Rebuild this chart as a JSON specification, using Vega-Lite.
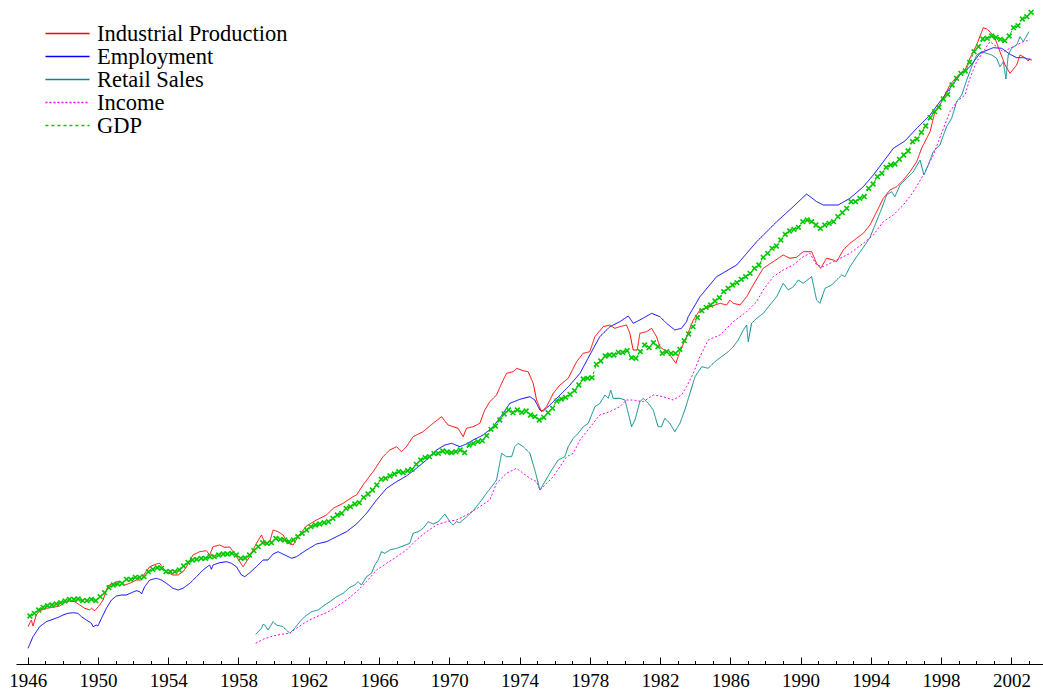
{
"$schema": "https://vega.github.io/schema/vega-lite/v6.json",
"width": 1027, "height": 664,
"autosize": {"type": "none"},
"padding": {"left": 16, "top": 0, "right": 0, "bottom": 34},
"background": "white",
"config": {"view": {"stroke": null}, "font": "Liberation Serif"},
"data": {"values": [
{"s":"Employment","t":1946.02,"v":15.7},{"s":"Employment","t":1946.30,"v":27.3},{"s":"Employment","t":1946.68,"v":37.3},{"s":"Employment","t":1947.06,"v":42.3},{"s":"Employment","t":1947.44,"v":44.7},{"s":"Employment","t":1947.82,"v":47.3},{"s":"Employment","t":1948.01,"v":49},{"s":"Employment","t":1948.29,"v":50.7},{"s":"Employment","t":1948.58,"v":51.3},{"s":"Employment","t":1948.86,"v":50.7},{"s":"Employment","t":1949.06,"v":47.3},{"s":"Employment","t":1949.34,"v":44},{"s":"Employment","t":1949.63,"v":40.7},{"s":"Employment","t":1949.72,"v":37.3},{"s":"Employment","t":1949.91,"v":39},{"s":"Employment","t":1950.00,"v":38},{"s":"Employment","t":1950.20,"v":45.7},{"s":"Employment","t":1950.48,"v":55.7},{"s":"Employment","t":1950.77,"v":64},{"s":"Employment","t":1951.05,"v":68},{"s":"Employment","t":1951.34,"v":69},{"s":"Employment","t":1951.62,"v":69},{"s":"Employment","t":1951.91,"v":71.3},{"s":"Employment","t":1952.19,"v":73.3},{"s":"Employment","t":1952.38,"v":72.3},{"s":"Employment","t":1952.48,"v":70},{"s":"Employment","t":1952.66,"v":77.3},{"s":"Employment","t":1952.95,"v":84},{"s":"Employment","t":1953.33,"v":85.7},{"s":"Employment","t":1953.61,"v":84},{"s":"Employment","t":1953.90,"v":80.7},{"s":"Employment","t":1954.27,"v":75.7},{"s":"Employment","t":1954.56,"v":74},{"s":"Employment","t":1954.84,"v":75.7},{"s":"Employment","t":1955.23,"v":80.7},{"s":"Employment","t":1955.61,"v":87.3},{"s":"Employment","t":1955.98,"v":94},{"s":"Employment","t":1956.36,"v":99},{"s":"Employment","t":1956.46,"v":94.7},{"s":"Employment","t":1956.55,"v":99},{"s":"Employment","t":1956.93,"v":101.3},{"s":"Employment","t":1957.32,"v":102.3},{"s":"Employment","t":1957.60,"v":100.7},{"s":"Employment","t":1957.88,"v":97.3},{"s":"Employment","t":1958.17,"v":89},{"s":"Employment","t":1958.36,"v":87.3},{"s":"Employment","t":1958.64,"v":91.3},{"s":"Employment","t":1959.02,"v":97.3},{"s":"Employment","t":1959.40,"v":104},{"s":"Employment","t":1959.68,"v":104},{"s":"Employment","t":1959.97,"v":110},{"s":"Employment","t":1960.25,"v":112.3},{"s":"Employment","t":1960.64,"v":109},{"s":"Employment","t":1961.02,"v":105.7},{"s":"Employment","t":1961.30,"v":107.3},{"s":"Employment","t":1961.87,"v":114},{"s":"Employment","t":1962.44,"v":120},{"s":"Employment","t":1963.01,"v":122.3},{"s":"Employment","t":1963.58,"v":127.3},{"s":"Employment","t":1964.15,"v":132.3},{"s":"Employment","t":1964.72,"v":140},{"s":"Employment","t":1965.29,"v":150.7},{"s":"Employment","t":1965.86,"v":164},{"s":"Employment","t":1966.43,"v":175.7},{"s":"Employment","t":1967.00,"v":182.3},{"s":"Employment","t":1967.56,"v":188},{"s":"Employment","t":1968.13,"v":195.7},{"s":"Employment","t":1968.70,"v":204},{"s":"Employment","t":1969.27,"v":214},{"s":"Employment","t":1969.75,"v":219},{"s":"Employment","t":1970.13,"v":220.7},{"s":"Employment","t":1970.60,"v":217.3},{"s":"Employment","t":1970.98,"v":220},{"s":"Employment","t":1971.36,"v":224},{"s":"Employment","t":1971.93,"v":229},{"s":"Employment","t":1972.50,"v":237.3},{"s":"Employment","t":1973.07,"v":250.7},{"s":"Employment","t":1973.45,"v":260.7},{"s":"Employment","t":1974.02,"v":264.7},{"s":"Employment","t":1974.59,"v":267.3},{"s":"Employment","t":1974.87,"v":264},{"s":"Employment","t":1975.16,"v":254},{"s":"Employment","t":1975.35,"v":253},{"s":"Employment","t":1975.73,"v":259},{"s":"Employment","t":1976.30,"v":269},{"s":"Employment","t":1976.87,"v":279},{"s":"Employment","t":1977.44,"v":290.7},{"s":"Employment","t":1978.00,"v":309},{"s":"Employment","t":1978.57,"v":327.3},{"s":"Employment","t":1979.14,"v":337.3},{"s":"Employment","t":1979.71,"v":342.3},{"s":"Employment","t":1980.19,"v":348},{"s":"Employment","t":1980.47,"v":340.7},{"s":"Employment","t":1980.85,"v":344},{"s":"Employment","t":1981.52,"v":350.7},{"s":"Employment","t":1981.99,"v":347.3},{"s":"Employment","t":1982.37,"v":340.7},{"s":"Employment","t":1982.84,"v":334},{"s":"Employment","t":1983.22,"v":335.7},{"s":"Employment","t":1983.51,"v":342.3},{"s":"Employment","t":1983.60,"v":347.3},{"s":"Employment","t":1984.27,"v":367.3},{"s":"Employment","t":1985.22,"v":387.3},{"s":"Employment","t":1986.36,"v":399},{"s":"Employment","t":1987.50,"v":422.3},{"s":"Employment","t":1988.64,"v":442.3},{"s":"Employment","t":1989.58,"v":457.3},{"s":"Employment","t":1990.34,"v":470},{"s":"Employment","t":1990.92,"v":462.3},{"s":"Employment","t":1991.29,"v":459},{"s":"Employment","t":1992.14,"v":459},{"s":"Employment","t":1992.81,"v":465.7},{"s":"Employment","t":1993.57,"v":477.3},{"s":"Employment","t":1994.14,"v":489},{"s":"Employment","t":1994.71,"v":502.3},{"s":"Employment","t":1995.28,"v":515.7},{"s":"Employment","t":1995.94,"v":523},{"s":"Employment","t":1996.61,"v":535.7},{"s":"Employment","t":1997.37,"v":549},{"s":"Employment","t":1997.93,"v":562.3},{"s":"Employment","t":1998.50,"v":575.7},{"s":"Employment","t":1999.07,"v":589},{"s":"Employment","t":1999.64,"v":597.3},{"s":"Employment","t":2000.21,"v":610.7},{"s":"Employment","t":2000.50,"v":613},{"s":"Employment","t":2000.97,"v":616.3},{"s":"Employment","t":2001.45,"v":615.7},{"s":"Employment","t":2001.92,"v":609.7},{"s":"Employment","t":2002.30,"v":606.3},{"s":"Employment","t":2002.68,"v":606.3},{"s":"Employment","t":2003.16,"v":604},
{"s":"Industrial Production","t":1946.02,"v":37.3},{"s":"Industrial Production","t":1946.11,"v":40.7},{"s":"Industrial Production","t":1946.21,"v":44},{"s":"Industrial Production","t":1946.30,"v":38},{"s":"Industrial Production","t":1946.49,"v":49},{"s":"Industrial Production","t":1946.68,"v":53.3},{"s":"Industrial Production","t":1947.06,"v":55.7},{"s":"Industrial Production","t":1947.44,"v":56.7},{"s":"Industrial Production","t":1947.82,"v":58},{"s":"Industrial Production","t":1948.11,"v":61.3},{"s":"Industrial Production","t":1948.39,"v":63},{"s":"Industrial Production","t":1948.68,"v":62.3},{"s":"Industrial Production","t":1948.96,"v":59},{"s":"Industrial Production","t":1949.25,"v":55.7},{"s":"Industrial Production","t":1949.53,"v":54},{"s":"Industrial Production","t":1949.63,"v":55.7},{"s":"Industrial Production","t":1949.82,"v":53.3},{"s":"Industrial Production","t":1950.10,"v":59},{"s":"Industrial Production","t":1950.29,"v":64},{"s":"Industrial Production","t":1950.57,"v":78},{"s":"Industrial Production","t":1950.86,"v":80.7},{"s":"Industrial Production","t":1951.24,"v":83},{"s":"Industrial Production","t":1951.52,"v":79},{"s":"Industrial Production","t":1951.81,"v":80.7},{"s":"Industrial Production","t":1952.19,"v":84},{"s":"Industrial Production","t":1952.48,"v":84},{"s":"Industrial Production","t":1952.66,"v":90.7},{"s":"Industrial Production","t":1952.95,"v":97.3},{"s":"Industrial Production","t":1953.33,"v":100},{"s":"Industrial Production","t":1953.52,"v":100.7},{"s":"Industrial Production","t":1953.71,"v":95.7},{"s":"Industrial Production","t":1953.99,"v":91.3},{"s":"Industrial Production","t":1954.27,"v":89},{"s":"Industrial Production","t":1954.56,"v":89},{"s":"Industrial Production","t":1954.84,"v":92.3},{"s":"Industrial Production","t":1955.04,"v":97.3},{"s":"Industrial Production","t":1955.41,"v":109},{"s":"Industrial Production","t":1955.79,"v":112.3},{"s":"Industrial Production","t":1956.17,"v":113.3},{"s":"Industrial Production","t":1956.36,"v":109},{"s":"Industrial Production","t":1956.55,"v":117.3},{"s":"Industrial Production","t":1956.93,"v":119},{"s":"Industrial Production","t":1957.22,"v":116.7},{"s":"Industrial Production","t":1957.50,"v":117},{"s":"Industrial Production","t":1957.79,"v":110},{"s":"Industrial Production","t":1958.26,"v":97.3},{"s":"Industrial Production","t":1958.64,"v":107.3},{"s":"Industrial Production","t":1959.02,"v":120.7},{"s":"Industrial Production","t":1959.31,"v":129},{"s":"Industrial Production","t":1959.50,"v":120.7},{"s":"Industrial Production","t":1959.78,"v":122.3},{"s":"Industrial Production","t":1959.97,"v":134},{"s":"Industrial Production","t":1960.25,"v":132.3},{"s":"Industrial Production","t":1960.54,"v":129},{"s":"Industrial Production","t":1960.82,"v":120.7},{"s":"Industrial Production","t":1961.11,"v":119},{"s":"Industrial Production","t":1961.39,"v":127.3},{"s":"Industrial Production","t":1961.87,"v":138},{"s":"Industrial Production","t":1962.44,"v":144},{"s":"Industrial Production","t":1963.01,"v":149},{"s":"Industrial Production","t":1963.39,"v":155.7},{"s":"Industrial Production","t":1963.96,"v":160.7},{"s":"Industrial Production","t":1964.52,"v":167.3},{"s":"Industrial Production","t":1964.72,"v":169},{"s":"Industrial Production","t":1965.09,"v":179},{"s":"Industrial Production","t":1965.66,"v":192.3},{"s":"Industrial Production","t":1966.23,"v":207.3},{"s":"Industrial Production","t":1966.61,"v":214},{"s":"Industrial Production","t":1967.00,"v":217.3},{"s":"Industrial Production","t":1967.28,"v":212.3},{"s":"Industrial Production","t":1967.56,"v":217.3},{"s":"Industrial Production","t":1967.94,"v":227.3},{"s":"Industrial Production","t":1968.51,"v":232.3},{"s":"Industrial Production","t":1969.08,"v":240.7},{"s":"Industrial Production","t":1969.56,"v":247.3},{"s":"Industrial Production","t":1969.93,"v":239},{"s":"Industrial Production","t":1970.50,"v":235.7},{"s":"Industrial Production","t":1970.79,"v":227.3},{"s":"Industrial Production","t":1970.98,"v":235.7},{"s":"Industrial Production","t":1971.36,"v":237.3},{"s":"Industrial Production","t":1971.74,"v":240.7},{"s":"Industrial Production","t":1972.02,"v":254},{"s":"Industrial Production","t":1972.31,"v":262.3},{"s":"Industrial Production","t":1972.69,"v":269},{"s":"Industrial Production","t":1972.98,"v":280.7},{"s":"Industrial Production","t":1973.26,"v":290.7},{"s":"Industrial Production","t":1973.64,"v":292.3},{"s":"Industrial Production","t":1973.83,"v":295.7},{"s":"Industrial Production","t":1974.21,"v":293.3},{"s":"Industrial Production","t":1974.49,"v":292.3},{"s":"Industrial Production","t":1974.78,"v":280.7},{"s":"Industrial Production","t":1974.97,"v":264},{"s":"Industrial Production","t":1975.25,"v":252.3},{"s":"Industrial Production","t":1975.54,"v":257.3},{"s":"Industrial Production","t":1975.92,"v":270.7},{"s":"Industrial Production","t":1976.30,"v":279},{"s":"Industrial Production","t":1976.77,"v":285.7},{"s":"Industrial Production","t":1977.25,"v":302.3},{"s":"Industrial Production","t":1977.62,"v":310.7},{"s":"Industrial Production","t":1978.00,"v":312.3},{"s":"Industrial Production","t":1978.29,"v":327.3},{"s":"Industrial Production","t":1978.76,"v":337.3},{"s":"Industrial Production","t":1979.14,"v":339},{"s":"Industrial Production","t":1979.42,"v":335.7},{"s":"Industrial Production","t":1979.71,"v":337.3},{"s":"Industrial Production","t":1980.09,"v":339},{"s":"Industrial Production","t":1980.28,"v":330.7},{"s":"Industrial Production","t":1980.47,"v":314},{"s":"Industrial Production","t":1980.70,"v":314},{"s":"Industrial Production","t":1980.85,"v":330.7},{"s":"Industrial Production","t":1981.23,"v":332.3},{"s":"Industrial Production","t":1981.52,"v":335.7},{"s":"Industrial Production","t":1981.80,"v":327.3},{"s":"Industrial Production","t":1981.99,"v":317.3},{"s":"Industrial Production","t":1982.37,"v":312.3},{"s":"Industrial Production","t":1982.56,"v":309},{"s":"Industrial Production","t":1982.90,"v":300.7},{"s":"Industrial Production","t":1983.13,"v":312.3},{"s":"Industrial Production","t":1983.51,"v":327.3},{"s":"Industrial Production","t":1983.89,"v":344},{"s":"Industrial Production","t":1984.27,"v":354},{"s":"Industrial Production","t":1984.84,"v":357.3},{"s":"Industrial Production","t":1985.41,"v":360.7},{"s":"Industrial Production","t":1985.79,"v":359},{"s":"Industrial Production","t":1985.98,"v":364},{"s":"Industrial Production","t":1986.17,"v":360.7},{"s":"Industrial Production","t":1986.55,"v":359},{"s":"Industrial Production","t":1986.93,"v":367.3},{"s":"Industrial Production","t":1987.30,"v":379},{"s":"Industrial Production","t":1987.87,"v":395.7},{"s":"Industrial Production","t":1988.44,"v":402.3},{"s":"Industrial Production","t":1989.01,"v":409},{"s":"Industrial Production","t":1989.39,"v":405.7},{"s":"Industrial Production","t":1989.77,"v":406.7},{"s":"Industrial Production","t":1990.15,"v":412.3},{"s":"Industrial Production","t":1990.63,"v":412.3},{"s":"Industrial Production","t":1990.91,"v":400.7},{"s":"Industrial Production","t":1991.14,"v":395.7},{"s":"Industrial Production","t":1991.48,"v":405.7},{"s":"Industrial Production","t":1991.86,"v":404},{"s":"Industrial Production","t":1992.05,"v":402.3},{"s":"Industrial Production","t":1992.43,"v":414},{"s":"Industrial Production","t":1992.81,"v":420.7},{"s":"Industrial Production","t":1993.19,"v":425.7},{"s":"Industrial Production","t":1993.57,"v":430.7},{"s":"Industrial Production","t":1993.95,"v":439},{"s":"Industrial Production","t":1994.33,"v":452.3},{"s":"Industrial Production","t":1994.71,"v":465.7},{"s":"Industrial Production","t":1995.09,"v":474},{"s":"Industrial Production","t":1995.47,"v":477.3},{"s":"Industrial Production","t":1995.85,"v":484},{"s":"Industrial Production","t":1996.23,"v":492.3},{"s":"Industrial Production","t":1996.61,"v":502.3},{"s":"Industrial Production","t":1996.89,"v":515.7},{"s":"Industrial Production","t":1997.37,"v":532.3},{"s":"Industrial Production","t":1997.65,"v":552.3},{"s":"Industrial Production","t":1998.03,"v":562.3},{"s":"Industrial Production","t":1998.50,"v":579},{"s":"Industrial Production","t":1998.89,"v":587.3},{"s":"Industrial Production","t":1999.36,"v":594},{"s":"Industrial Production","t":1999.64,"v":605.7},{"s":"Industrial Production","t":2000.02,"v":619},{"s":"Industrial Production","t":2000.40,"v":636.3},{"s":"Industrial Production","t":2000.59,"v":635},{"s":"Industrial Production","t":2000.78,"v":632.3},{"s":"Industrial Production","t":2001.07,"v":625.7},{"s":"Industrial Production","t":2001.35,"v":612.3},{"s":"Industrial Production","t":2001.64,"v":599},{"s":"Industrial Production","t":2001.92,"v":590.7},{"s":"Industrial Production","t":2002.30,"v":599},{"s":"Industrial Production","t":2002.49,"v":609},{"s":"Industrial Production","t":2002.77,"v":606.3},{"s":"Industrial Production","t":2002.96,"v":603},{"s":"Industrial Production","t":2003.06,"v":605.7},
{"s":"Retail Sales","t":1958.98,"v":29.7},{"s":"Retail Sales","t":1959.31,"v":35.7},{"s":"Retail Sales","t":1959.40,"v":39.7},{"s":"Retail Sales","t":1959.50,"v":39},{"s":"Retail Sales","t":1959.68,"v":34},{"s":"Retail Sales","t":1959.97,"v":42.3},{"s":"Retail Sales","t":1960.16,"v":39},{"s":"Retail Sales","t":1960.54,"v":37.3},{"s":"Retail Sales","t":1960.73,"v":34},{"s":"Retail Sales","t":1960.92,"v":30.7},{"s":"Retail Sales","t":1961.20,"v":35.7},{"s":"Retail Sales","t":1961.49,"v":42.3},{"s":"Retail Sales","t":1961.77,"v":47.3},{"s":"Retail Sales","t":1962.15,"v":52.3},{"s":"Retail Sales","t":1962.53,"v":54},{"s":"Retail Sales","t":1962.91,"v":59},{"s":"Retail Sales","t":1963.20,"v":62.3},{"s":"Retail Sales","t":1963.58,"v":67.3},{"s":"Retail Sales","t":1963.96,"v":70.7},{"s":"Retail Sales","t":1964.34,"v":76.7},{"s":"Retail Sales","t":1964.62,"v":79},{"s":"Retail Sales","t":1964.81,"v":82.3},{"s":"Retail Sales","t":1965.00,"v":79},{"s":"Retail Sales","t":1965.29,"v":87.3},{"s":"Retail Sales","t":1965.57,"v":90.7},{"s":"Retail Sales","t":1965.76,"v":99},{"s":"Retail Sales","t":1965.95,"v":104},{"s":"Retail Sales","t":1966.14,"v":112.3},{"s":"Retail Sales","t":1966.33,"v":110.7},{"s":"Retail Sales","t":1966.61,"v":114},{"s":"Retail Sales","t":1967.00,"v":115.7},{"s":"Retail Sales","t":1967.37,"v":118},{"s":"Retail Sales","t":1967.75,"v":120.7},{"s":"Retail Sales","t":1967.94,"v":130.7},{"s":"Retail Sales","t":1968.23,"v":132.3},{"s":"Retail Sales","t":1968.51,"v":135.7},{"s":"Retail Sales","t":1968.80,"v":142.3},{"s":"Retail Sales","t":1969.08,"v":140},{"s":"Retail Sales","t":1969.37,"v":142.3},{"s":"Retail Sales","t":1969.75,"v":150},{"s":"Retail Sales","t":1970.03,"v":142.3},{"s":"Retail Sales","t":1970.22,"v":139},{"s":"Retail Sales","t":1970.41,"v":142.3},{"s":"Retail Sales","t":1970.60,"v":141.3},{"s":"Retail Sales","t":1970.98,"v":147},{"s":"Retail Sales","t":1971.40,"v":154},{"s":"Retail Sales","t":1971.84,"v":164},{"s":"Retail Sales","t":1972.12,"v":170.7},{"s":"Retail Sales","t":1972.41,"v":177.3},{"s":"Retail Sales","t":1972.69,"v":184},{"s":"Retail Sales","t":1972.98,"v":210.7},{"s":"Retail Sales","t":1973.26,"v":207.3},{"s":"Retail Sales","t":1973.55,"v":207.3},{"s":"Retail Sales","t":1973.73,"v":217.3},{"s":"Retail Sales","t":1973.92,"v":220.7},{"s":"Retail Sales","t":1974.21,"v":217.3},{"s":"Retail Sales","t":1974.59,"v":210.7},{"s":"Retail Sales","t":1974.87,"v":194},{"s":"Retail Sales","t":1975.16,"v":174},{"s":"Retail Sales","t":1975.44,"v":182.3},{"s":"Retail Sales","t":1975.83,"v":194},{"s":"Retail Sales","t":1976.20,"v":204},{"s":"Retail Sales","t":1976.58,"v":207.3},{"s":"Retail Sales","t":1976.77,"v":217.3},{"s":"Retail Sales","t":1977.06,"v":225.7},{"s":"Retail Sales","t":1977.34,"v":230.7},{"s":"Retail Sales","t":1977.63,"v":237.3},{"s":"Retail Sales","t":1977.91,"v":240.7},{"s":"Retail Sales","t":1978.10,"v":249},{"s":"Retail Sales","t":1978.29,"v":257.3},{"s":"Retail Sales","t":1978.58,"v":260.7},{"s":"Retail Sales","t":1978.86,"v":269},{"s":"Retail Sales","t":1979.05,"v":265.7},{"s":"Retail Sales","t":1979.19,"v":274},{"s":"Retail Sales","t":1979.33,"v":265.7},{"s":"Retail Sales","t":1979.71,"v":265.7},{"s":"Retail Sales","t":1980.00,"v":264},{"s":"Retail Sales","t":1980.19,"v":250.7},{"s":"Retail Sales","t":1980.38,"v":237.3},{"s":"Retail Sales","t":1980.57,"v":244},{"s":"Retail Sales","t":1980.85,"v":262.3},{"s":"Retail Sales","t":1981.04,"v":265.7},{"s":"Retail Sales","t":1981.33,"v":260.7},{"s":"Retail Sales","t":1981.61,"v":254},{"s":"Retail Sales","t":1981.89,"v":237.3},{"s":"Retail Sales","t":1982.08,"v":237.3},{"s":"Retail Sales","t":1982.27,"v":245.7},{"s":"Retail Sales","t":1982.56,"v":240.7},{"s":"Retail Sales","t":1982.84,"v":232.3},{"s":"Retail Sales","t":1983.13,"v":240.7},{"s":"Retail Sales","t":1983.41,"v":254},{"s":"Retail Sales","t":1983.70,"v":270.7},{"s":"Retail Sales","t":1983.99,"v":287.3},{"s":"Retail Sales","t":1984.37,"v":297.3},{"s":"Retail Sales","t":1984.74,"v":295.7},{"s":"Retail Sales","t":1985.12,"v":302.3},{"s":"Retail Sales","t":1985.50,"v":307.3},{"s":"Retail Sales","t":1985.88,"v":312.3},{"s":"Retail Sales","t":1986.17,"v":317.3},{"s":"Retail Sales","t":1986.45,"v":324},{"s":"Retail Sales","t":1986.74,"v":334},{"s":"Retail Sales","t":1986.93,"v":339},{"s":"Retail Sales","t":1987.02,"v":322.3},{"s":"Retail Sales","t":1987.21,"v":340.7},{"s":"Retail Sales","t":1987.50,"v":345.7},{"s":"Retail Sales","t":1987.88,"v":350.7},{"s":"Retail Sales","t":1988.25,"v":359},{"s":"Retail Sales","t":1988.64,"v":367.3},{"s":"Retail Sales","t":1989.01,"v":380.7},{"s":"Retail Sales","t":1989.30,"v":374},{"s":"Retail Sales","t":1989.59,"v":377.3},{"s":"Retail Sales","t":1989.87,"v":384},{"s":"Retail Sales","t":1990.15,"v":380.7},{"s":"Retail Sales","t":1990.63,"v":387.3},{"s":"Retail Sales","t":1990.91,"v":364},{"s":"Retail Sales","t":1991.10,"v":360.7},{"s":"Retail Sales","t":1991.39,"v":375.7},{"s":"Retail Sales","t":1991.77,"v":379},{"s":"Retail Sales","t":1992.05,"v":384},{"s":"Retail Sales","t":1992.34,"v":389},{"s":"Retail Sales","t":1992.53,"v":387.3},{"s":"Retail Sales","t":1992.81,"v":397.3},{"s":"Retail Sales","t":1993.19,"v":407.3},{"s":"Retail Sales","t":1993.57,"v":416.5},{"s":"Retail Sales","t":1993.95,"v":426.5},{"s":"Retail Sales","t":1994.33,"v":443},{"s":"Retail Sales","t":1994.62,"v":455.7},{"s":"Retail Sales","t":1994.90,"v":469},{"s":"Retail Sales","t":1995.18,"v":472.3},{"s":"Retail Sales","t":1995.37,"v":467.3},{"s":"Retail Sales","t":1995.66,"v":479},{"s":"Retail Sales","t":1996.04,"v":485.7},{"s":"Retail Sales","t":1996.42,"v":492.3},{"s":"Retail Sales","t":1996.80,"v":504},{"s":"Retail Sales","t":1997.02,"v":489},{"s":"Retail Sales","t":1997.27,"v":499},{"s":"Retail Sales","t":1997.55,"v":512.3},{"s":"Retail Sales","t":1997.93,"v":519},{"s":"Retail Sales","t":1998.31,"v":537.3},{"s":"Retail Sales","t":1998.60,"v":545.7},{"s":"Retail Sales","t":1998.88,"v":562.3},{"s":"Retail Sales","t":1999.17,"v":569},{"s":"Retail Sales","t":1999.46,"v":584},{"s":"Retail Sales","t":1999.74,"v":597.3},{"s":"Retail Sales","t":2000.02,"v":609},{"s":"Retail Sales","t":2000.31,"v":612.3},{"s":"Retail Sales","t":2000.59,"v":610.7},{"s":"Retail Sales","t":2000.88,"v":609},{"s":"Retail Sales","t":2001.16,"v":605.7},{"s":"Retail Sales","t":2001.35,"v":597.3},{"s":"Retail Sales","t":2001.54,"v":602.3},{"s":"Retail Sales","t":2001.69,"v":585},{"s":"Retail Sales","t":2001.82,"v":609},{"s":"Retail Sales","t":2002.01,"v":615.7},{"s":"Retail Sales","t":2002.30,"v":619},{"s":"Retail Sales","t":2002.49,"v":627.3},{"s":"Retail Sales","t":2002.68,"v":622.3},{"s":"Retail Sales","t":2003.00,"v":632.3},
{"s":"Income","t":1958.98,"v":20.7},{"s":"Income","t":1959.40,"v":24.7},{"s":"Income","t":1959.97,"v":28},{"s":"Income","t":1960.54,"v":30},{"s":"Income","t":1960.92,"v":30.7},{"s":"Income","t":1961.30,"v":35.7},{"s":"Income","t":1961.87,"v":42.3},{"s":"Income","t":1962.44,"v":47.3},{"s":"Income","t":1963.01,"v":51.3},{"s":"Income","t":1963.58,"v":57.3},{"s":"Income","t":1964.15,"v":64},{"s":"Income","t":1964.72,"v":72.3},{"s":"Income","t":1965.29,"v":82.3},{"s":"Income","t":1965.86,"v":94},{"s":"Income","t":1966.43,"v":100.7},{"s":"Income","t":1967.00,"v":107.3},{"s":"Income","t":1967.56,"v":114},{"s":"Income","t":1968.13,"v":124},{"s":"Income","t":1968.70,"v":132.3},{"s":"Income","t":1969.27,"v":139},{"s":"Income","t":1969.84,"v":142.3},{"s":"Income","t":1970.41,"v":144},{"s":"Income","t":1970.98,"v":149},{"s":"Income","t":1971.62,"v":156},{"s":"Income","t":1972.31,"v":164},{"s":"Income","t":1972.69,"v":180.7},{"s":"Income","t":1973.26,"v":190.7},{"s":"Income","t":1973.83,"v":195.7},{"s":"Income","t":1974.21,"v":190.7},{"s":"Income","t":1974.59,"v":185.7},{"s":"Income","t":1974.97,"v":182.3},{"s":"Income","t":1975.16,"v":174},{"s":"Income","t":1975.54,"v":180.7},{"s":"Income","t":1975.92,"v":187.3},{"s":"Income","t":1976.30,"v":197.3},{"s":"Income","t":1976.68,"v":207.3},{"s":"Income","t":1977.06,"v":210.7},{"s":"Income","t":1977.44,"v":224},{"s":"Income","t":1977.82,"v":232.3},{"s":"Income","t":1978.19,"v":240.7},{"s":"Income","t":1978.57,"v":249},{"s":"Income","t":1979.14,"v":252.3},{"s":"Income","t":1979.71,"v":257.3},{"s":"Income","t":1980.09,"v":264},{"s":"Income","t":1980.47,"v":264},{"s":"Income","t":1981.04,"v":262.3},{"s":"Income","t":1981.61,"v":269},{"s":"Income","t":1982.18,"v":267.3},{"s":"Income","t":1982.75,"v":264},{"s":"Income","t":1983.22,"v":269},{"s":"Income","t":1983.51,"v":277.3},{"s":"Income","t":1983.89,"v":290.7},{"s":"Income","t":1984.27,"v":307.3},{"s":"Income","t":1984.74,"v":324},{"s":"Income","t":1985.41,"v":329},{"s":"Income","t":1986.17,"v":342.3},{"s":"Income","t":1986.93,"v":352.3},{"s":"Income","t":1987.50,"v":362.3},{"s":"Income","t":1987.87,"v":374},{"s":"Income","t":1988.44,"v":387.3},{"s":"Income","t":1989.01,"v":394},{"s":"Income","t":1989.58,"v":399},{"s":"Income","t":1990.15,"v":407.3},{"s":"Income","t":1990.53,"v":410.7},{"s":"Income","t":1990.91,"v":399},{"s":"Income","t":1991.29,"v":397.3},{"s":"Income","t":1991.86,"v":402.3},{"s":"Income","t":1992.43,"v":407.3},{"s":"Income","t":1992.81,"v":410.7},{"s":"Income","t":1993.57,"v":420.7},{"s":"Income","t":1994.14,"v":429},{"s":"Income","t":1994.71,"v":442.3},{"s":"Income","t":1995.28,"v":449},{"s":"Income","t":1995.85,"v":459},{"s":"Income","t":1996.42,"v":472.3},{"s":"Income","t":1996.99,"v":489},{"s":"Income","t":1997.56,"v":509},{"s":"Income","t":1998.13,"v":535.7},{"s":"Income","t":1998.50,"v":552.3},{"s":"Income","t":1998.89,"v":562.3},{"s":"Income","t":1999.36,"v":569},{"s":"Income","t":1999.64,"v":585.7},{"s":"Income","t":2000.02,"v":602.3},{"s":"Income","t":2000.40,"v":612.3},{"s":"Income","t":2000.78,"v":622.3},{"s":"Income","t":2001.16,"v":617.3},{"s":"Income","t":2001.54,"v":612.3},{"s":"Income","t":2001.92,"v":615.7},{"s":"Income","t":2002.30,"v":619},{"s":"Income","t":2002.68,"v":622.3},{"s":"Income","t":2003.06,"v":624},
{"s":"GDP","t":1946.125,"v":48},{"s":"GDP","t":1946.375,"v":50.7},{"s":"GDP","t":1946.625,"v":54},{"s":"GDP","t":1946.875,"v":56.7},{"s":"GDP","t":1947.125,"v":58.3},{"s":"GDP","t":1947.375,"v":59},{"s":"GDP","t":1947.625,"v":60},{"s":"GDP","t":1947.875,"v":61.3},{"s":"GDP","t":1948.125,"v":63},{"s":"GDP","t":1948.375,"v":64.7},{"s":"GDP","t":1948.625,"v":64.7},{"s":"GDP","t":1948.875,"v":65},{"s":"GDP","t":1949.125,"v":63.3},{"s":"GDP","t":1949.375,"v":63.3},{"s":"GDP","t":1949.625,"v":64.7},{"s":"GDP","t":1949.875,"v":63.3},{"s":"GDP","t":1950.125,"v":67.3},{"s":"GDP","t":1950.375,"v":71.3},{"s":"GDP","t":1950.625,"v":76.3},{"s":"GDP","t":1950.875,"v":79},{"s":"GDP","t":1951.125,"v":80},{"s":"GDP","t":1951.375,"v":80.7},{"s":"GDP","t":1951.625,"v":84.7},{"s":"GDP","t":1951.875,"v":84.7},{"s":"GDP","t":1952.125,"v":86.7},{"s":"GDP","t":1952.375,"v":86.7},{"s":"GDP","t":1952.625,"v":87.3},{"s":"GDP","t":1952.875,"v":92.3},{"s":"GDP","t":1953.125,"v":94.7},{"s":"GDP","t":1953.375,"v":96.3},{"s":"GDP","t":1953.625,"v":95.7},{"s":"GDP","t":1953.875,"v":92.3},{"s":"GDP","t":1954.125,"v":92.3},{"s":"GDP","t":1954.375,"v":92.3},{"s":"GDP","t":1954.625,"v":94},{"s":"GDP","t":1954.875,"v":98},{"s":"GDP","t":1955.125,"v":101.7},{"s":"GDP","t":1955.375,"v":104},{"s":"GDP","t":1955.625,"v":104.7},{"s":"GDP","t":1955.875,"v":105.7},{"s":"GDP","t":1956.125,"v":105.7},{"s":"GDP","t":1956.375,"v":107.3},{"s":"GDP","t":1956.625,"v":107.3},{"s":"GDP","t":1956.875,"v":109},{"s":"GDP","t":1957.125,"v":110},{"s":"GDP","t":1957.375,"v":110},{"s":"GDP","t":1957.625,"v":110.7},{"s":"GDP","t":1957.875,"v":109},{"s":"GDP","t":1958.125,"v":105.7},{"s":"GDP","t":1958.375,"v":106},{"s":"GDP","t":1958.625,"v":109},{"s":"GDP","t":1958.875,"v":113.3},{"s":"GDP","t":1959.125,"v":117.3},{"s":"GDP","t":1959.375,"v":121.3},{"s":"GDP","t":1959.625,"v":120.7},{"s":"GDP","t":1959.875,"v":121.3},{"s":"GDP","t":1960.125,"v":125.7},{"s":"GDP","t":1960.375,"v":124.7},{"s":"GDP","t":1960.625,"v":124},{"s":"GDP","t":1960.875,"v":122.3},{"s":"GDP","t":1961.125,"v":124},{"s":"GDP","t":1961.375,"v":127.3},{"s":"GDP","t":1961.625,"v":130.7},{"s":"GDP","t":1961.875,"v":134},{"s":"GDP","t":1962.125,"v":137.3},{"s":"GDP","t":1962.375,"v":139},{"s":"GDP","t":1962.625,"v":140},{"s":"GDP","t":1962.875,"v":141.3},{"s":"GDP","t":1963.125,"v":142.3},{"s":"GDP","t":1963.375,"v":145.7},{"s":"GDP","t":1963.625,"v":149},{"s":"GDP","t":1963.875,"v":150.7},{"s":"GDP","t":1964.125,"v":155.7},{"s":"GDP","t":1964.375,"v":157.3},{"s":"GDP","t":1964.625,"v":160},{"s":"GDP","t":1964.875,"v":161.3},{"s":"GDP","t":1965.125,"v":166.7},{"s":"GDP","t":1965.375,"v":170},{"s":"GDP","t":1965.625,"v":174},{"s":"GDP","t":1965.875,"v":179},{"s":"GDP","t":1966.125,"v":184.7},{"s":"GDP","t":1966.375,"v":185.7},{"s":"GDP","t":1966.625,"v":188},{"s":"GDP","t":1966.875,"v":190},{"s":"GDP","t":1967.125,"v":192.3},{"s":"GDP","t":1967.375,"v":191.3},{"s":"GDP","t":1967.625,"v":193.3},{"s":"GDP","t":1967.875,"v":194.7},{"s":"GDP","t":1968.125,"v":199.7},{"s":"GDP","t":1968.375,"v":204},{"s":"GDP","t":1968.625,"v":206.3},{"s":"GDP","t":1968.875,"v":207.3},{"s":"GDP","t":1969.125,"v":210.7},{"s":"GDP","t":1969.375,"v":210.7},{"s":"GDP","t":1969.625,"v":213},{"s":"GDP","t":1969.875,"v":212},{"s":"GDP","t":1970.125,"v":211.3},{"s":"GDP","t":1970.375,"v":212.3},{"s":"GDP","t":1970.625,"v":214},{"s":"GDP","t":1970.875,"v":211.3},{"s":"GDP","t":1971.125,"v":219},{"s":"GDP","t":1971.375,"v":220.7},{"s":"GDP","t":1971.625,"v":222.3},{"s":"GDP","t":1971.875,"v":223.3},{"s":"GDP","t":1972.125,"v":228.3},{"s":"GDP","t":1972.375,"v":234.7},{"s":"GDP","t":1972.625,"v":238},{"s":"GDP","t":1972.875,"v":244},{"s":"GDP","t":1973.125,"v":250},{"s":"GDP","t":1973.375,"v":254},{"s":"GDP","t":1973.625,"v":251.3},{"s":"GDP","t":1973.875,"v":254},{"s":"GDP","t":1974.125,"v":251.7},{"s":"GDP","t":1974.375,"v":253},{"s":"GDP","t":1974.625,"v":249},{"s":"GDP","t":1974.875,"v":247.3},{"s":"GDP","t":1975.125,"v":244},{"s":"GDP","t":1975.375,"v":246.7},{"s":"GDP","t":1975.625,"v":251.3},{"s":"GDP","t":1975.875,"v":255.7},{"s":"GDP","t":1976.125,"v":263},{"s":"GDP","t":1976.375,"v":265},{"s":"GDP","t":1976.625,"v":266.7},{"s":"GDP","t":1976.875,"v":269.7},{"s":"GDP","t":1977.125,"v":273.3},{"s":"GDP","t":1977.375,"v":279},{"s":"GDP","t":1977.625,"v":285},{"s":"GDP","t":1977.875,"v":285.7},{"s":"GDP","t":1978.125,"v":286.3},{"s":"GDP","t":1978.375,"v":299.7},{"s":"GDP","t":1978.625,"v":303},{"s":"GDP","t":1978.875,"v":308},{"s":"GDP","t":1979.125,"v":309},{"s":"GDP","t":1979.375,"v":309},{"s":"GDP","t":1979.625,"v":311.7},{"s":"GDP","t":1979.875,"v":311.7},{"s":"GDP","t":1980.125,"v":313.3},{"s":"GDP","t":1980.375,"v":306.3},{"s":"GDP","t":1980.625,"v":305.7},{"s":"GDP","t":1980.875,"v":312.3},{"s":"GDP","t":1981.125,"v":319},{"s":"GDP","t":1981.375,"v":316.3},{"s":"GDP","t":1981.625,"v":321.3},{"s":"GDP","t":1981.875,"v":317.3},{"s":"GDP","t":1982.125,"v":310.7},{"s":"GDP","t":1982.375,"v":312.3},{"s":"GDP","t":1982.625,"v":310.7},{"s":"GDP","t":1982.875,"v":310.7},{"s":"GDP","t":1983.125,"v":314.7},{"s":"GDP","t":1983.375,"v":323.3},{"s":"GDP","t":1983.625,"v":330},{"s":"GDP","t":1983.875,"v":337.3},{"s":"GDP","t":1984.125,"v":346.3},{"s":"GDP","t":1984.375,"v":353.3},{"s":"GDP","t":1984.625,"v":356.7},{"s":"GDP","t":1984.875,"v":359},{"s":"GDP","t":1985.125,"v":363},{"s":"GDP","t":1985.375,"v":366.3},{"s":"GDP","t":1985.625,"v":372.3},{"s":"GDP","t":1985.875,"v":375.7},{"s":"GDP","t":1986.125,"v":379},{"s":"GDP","t":1986.375,"v":381.3},{"s":"GDP","t":1986.625,"v":384.7},{"s":"GDP","t":1986.875,"v":387.3},{"s":"GDP","t":1987.125,"v":390.7},{"s":"GDP","t":1987.375,"v":395.7},{"s":"GDP","t":1987.625,"v":399},{"s":"GDP","t":1987.875,"v":406.7},{"s":"GDP","t":1988.125,"v":410.7},{"s":"GDP","t":1988.375,"v":415.7},{"s":"GDP","t":1988.625,"v":418},{"s":"GDP","t":1988.875,"v":424},{"s":"GDP","t":1989.125,"v":429.7},{"s":"GDP","t":1989.375,"v":433},{"s":"GDP","t":1989.625,"v":434.7},{"s":"GDP","t":1989.875,"v":436.7},{"s":"GDP","t":1990.125,"v":442.3},{"s":"GDP","t":1990.375,"v":444},{"s":"GDP","t":1990.625,"v":442.3},{"s":"GDP","t":1990.875,"v":439},{"s":"GDP","t":1991.125,"v":435.7},{"s":"GDP","t":1991.375,"v":439},{"s":"GDP","t":1991.625,"v":440.7},{"s":"GDP","t":1991.875,"v":442.3},{"s":"GDP","t":1992.125,"v":447.3},{"s":"GDP","t":1992.375,"v":451.3},{"s":"GDP","t":1992.625,"v":455.7},{"s":"GDP","t":1992.875,"v":462.3},{"s":"GDP","t":1993.125,"v":462.3},{"s":"GDP","t":1993.375,"v":465.7},{"s":"GDP","t":1993.625,"v":467.3},{"s":"GDP","t":1993.875,"v":475.7},{"s":"GDP","t":1994.125,"v":480},{"s":"GDP","t":1994.375,"v":487.3},{"s":"GDP","t":1994.625,"v":490.7},{"s":"GDP","t":1994.875,"v":496.7},{"s":"GDP","t":1995.125,"v":499},{"s":"GDP","t":1995.375,"v":500},{"s":"GDP","t":1995.625,"v":504.7},{"s":"GDP","t":1995.875,"v":509},{"s":"GDP","t":1996.125,"v":513},{"s":"GDP","t":1996.375,"v":522.3},{"s":"GDP","t":1996.625,"v":525},{"s":"GDP","t":1996.875,"v":531.7},{"s":"GDP","t":1997.125,"v":538},{"s":"GDP","t":1997.375,"v":546.3},{"s":"GDP","t":1997.625,"v":552.3},{"s":"GDP","t":1997.875,"v":556.7},{"s":"GDP","t":1998.125,"v":565},{"s":"GDP","t":1998.375,"v":569.7},{"s":"GDP","t":1998.625,"v":579},{"s":"GDP","t":1998.875,"v":585.7},{"s":"GDP","t":1999.125,"v":590.7},{"s":"GDP","t":1999.375,"v":593},{"s":"GDP","t":1999.625,"v":601.7},{"s":"GDP","t":1999.875,"v":612.3},{"s":"GDP","t":2000.125,"v":617.3},{"s":"GDP","t":2000.375,"v":625},{"s":"GDP","t":2000.625,"v":625.7},{"s":"GDP","t":2000.875,"v":628},{"s":"GDP","t":2001.125,"v":626.7},{"s":"GDP","t":2001.375,"v":624.7},{"s":"GDP","t":2001.625,"v":623.3},{"s":"GDP","t":2001.875,"v":628},{"s":"GDP","t":2002.125,"v":636.3},{"s":"GDP","t":2002.375,"v":638.3},{"s":"GDP","t":2002.625,"v":645},{"s":"GDP","t":2002.875,"v":647.3},{"s":"GDP","t":2003.125,"v":651.7}
]},
"encoding": {
  "x": {"field": "t", "type": "quantitative", "scale": {"domain": [1945.334, 2003.8], "nice": false, "zero": false},
    "axis": {"title": null, "grid": false,
      "values": [1946,1947,1948,1949,1950,1951,1952,1953,1954,1955,1956,1957,1958,1959,1960,1961,1962,1963,1964,1965,1966,1967,1968,1969,1970,1971,1972,1973,1974,1975,1976,1977,1978,1979,1980,1981,1982,1983,1984,1985,1986,1987,1988,1989,1990,1991,1992,1993,1994,1995,1996,1997,1998,1999,2000,2001,2002,2003],
      "format": "d",
      "labelExpr": "datum.value % 4 === 2 ? datum.label : ''",
      "tickSize": {"condition": {"test": "datum.value % 4 === 2", "value": -7}, "value": -3.5},
      "tickColor": "black", "tickWidth": 1, "domainColor": "black", "domainWidth": 1,
      "labelFont": "Liberation Serif", "labelFontSize": 19, "labelColor": "black",
      "labelPadding": 14.5, "labelOverlap": false, "labelFlush": false, "labelBound": false}},
  "y": {"field": "v", "type": "quantitative", "scale": {"domain": [0, 664], "nice": false, "zero": false}, "axis": null}
},
"layer": [
  {"mark": {"type": "line", "strokeWidth": 1, "clip": true},
   "encoding": {
     "color": {"field": "s", "type": "nominal",
       "scale": {"domain": ["Industrial Production","Employment","Retail Sales","Income","GDP"], "range": ["#FF0000","#0000FF","#008B8B","#FF00FF","#00C800"]},
       "legend": {"title": null, "orient": "none", "legendX": 40, "legendY": 22, "symbolType": "M-2.1,0H2.1", "symbolSize": 441, "symbolStrokeWidth": 1.5, "symbolOpacity": 1, "labelFont": "Liberation Serif", "labelFontSize": 22.5, "labelColor": "black", "labelOffset": 18, "labelLimit": 400, "rowPadding": 0, "padding": 0, "symbolLimit": 0,
         "encode": {"symbols": {"update": {
           "stroke": {"signal": "datum.label === 'Industrial Production' ? '#FF0000' : datum.label === 'Employment' ? '#0000FF' : datum.label === 'Retail Sales' ? '#008B8B' : datum.label === 'Income' ? '#FF00FF' : '#00C800'"},
           "strokeDash": {"signal": "datum.label === 'Income' ? [2,2] : datum.label === 'GDP' ? [3,3] : [1,0]"}}}}}},
     "strokeDash": {"field": "s", "type": "nominal", "legend": null,
       "scale": {"domain": ["Industrial Production","Employment","Retail Sales","Income","GDP"], "range": [[1,0],[1,0],[1,0],[2,2],[3,3]]}}
   }},
  {"transform": [{"filter": "datum.s === 'GDP'"}],
   "mark": {"type": "point", "shape": "M-1,-1L1,1M1,-1L-1,1", "filled": false, "size": 22, "strokeWidth": 1.6, "color": "#00C800", "opacity": 1}}
]
}
